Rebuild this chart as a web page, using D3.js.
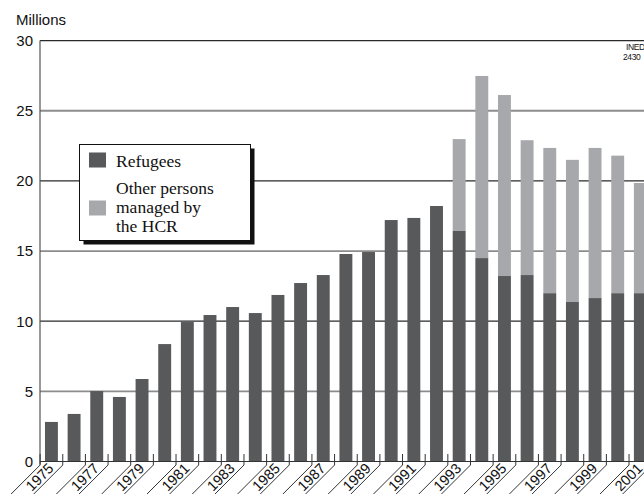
<!DOCTYPE html>
<html>
<head>
<meta charset="utf-8">
<script src="https://cdn.jsdelivr.net/npm/d3@7/dist/d3.min.js"></script>
<style>
  html, body { margin: 0; padding: 0; background: #fff; overflow: hidden; }
  svg { display: block; }
</style>
</head>
<body>
<div id="chart"></div>
<script>
// ---- data (millions) ----
const years = [1975,1976,1977,1978,1979,1980,1981,1982,1983,1984,1985,1986,1987,1988,
               1989,1990,1991,1992,1993,1994,1995,1996,1997,1998,1999,2000,2001];
const refugees = [2.82,3.39,5.02,4.6,5.88,8.37,9.94,10.44,11.01,10.58,11.87,12.72,13.29,14.79,
                  14.93,17.21,17.36,18.21,16.43,14.5,13.22,13.29,12.0,11.37,11.65,12.0,12.0];
const others = [0,0,0,0,0,0,0,0,0,0,0,0,0,0,
                0,0,0,0,6.55,12.98,12.9,9.61,10.35,10.13,10.7,9.8,7.85];
const yTicks = [0,5,10,15,20,25,30];
const xLabelYears = years.filter(y => y % 2 === 1);
const legendItems = [
  {label: ["Refugees"], key: "refugees"},
  {label: ["Other persons", "managed by", "the HCR"], key: "others"}
];

const W = 644, H = 494;
const colors = {refugees: "#58595b", others: "#a7a8ab"};

const svg = d3.select("#chart").append("svg").attr("width", W).attr("height", H);

const x = d3.scaleBand().domain(years).range([40, 651.8]).paddingInner(0.43).paddingOuter(0.22);
const y = d3.scaleLinear().domain([0, 30]).range([461.5, 40.6]);
const axisY = y(0);
const step = x.step(), bw = x.bandwidth(), gap = step - bw;

// gridlines
svg.append("g").selectAll("line").data(yTicks.filter(d => d > 0)).join("line")
  .attr("x1", 40).attr("x2", W)
  .attr("y1", d => y(d)).attr("y2", d => y(d))
  .attr("stroke", d => d % 10 === 0 ? "#2a2a2a" : "#8c8c8c")
  .attr("stroke-width", d => d % 10 === 0 ? 1.2 : 1.8);

// y tick labels
svg.append("g").selectAll("text").data(yTicks).join("text")
  .attr("x", 33).attr("y", d => y(d)).attr("dy", "0.36em")
  .attr("text-anchor", "end")
  .attr("font-family", "Liberation Sans, Arial, sans-serif").attr("font-size", 15)
  .attr("fill", "#111").text(d => d);

svg.append("text").attr("x", 16).attr("y", 25)
  .attr("font-family", "Liberation Sans, Arial, sans-serif").attr("font-size", 15)
  .attr("fill", "#111").text("Millions");

// stacked bars
const stackData = years.map((yr, i) => ({year: yr, refugees: refugees[i], others: others[i]}));
const series = d3.stack().keys(["refugees", "others"])(stackData);
svg.append("g").selectAll("g").data(series).join("g")
  .attr("fill", s => colors[s.key])
  .selectAll("rect").data(s => s.filter(d => d[1] - d[0] > 0)).join("rect")
  .attr("x", d => x(d.data.year)).attr("width", bw)
  .attr("y", d => y(d[1])).attr("height", d => y(d[0]) - y(d[1]));

// axes lines
svg.append("line").attr("x1", 40).attr("x2", W).attr("y1", axisY).attr("y2", axisY)
  .attr("stroke", "#333").attr("stroke-width", 1.2);
svg.append("line").attr("x1", 40).attr("x2", 40).attr("y1", y(30)).attr("y2", axisY + 3)
  .attr("stroke", "#555").attr("stroke-width", 1.2);

// band boundary ticks and diagonal guides
const bounds = years.map(yr => x(yr) - gap / 2).concat([x(years[years.length - 1]) + bw + gap / 2]);
const tg = svg.append("g").attr("stroke", "#333").attr("stroke-width", 1).attr("fill", "none");
tg.selectAll("path").data(bounds).join("path")
  .attr("d", b => `M${b},${axisY - 7.5}L${b},${axisY + 3.5}L${b - 40},${axisY + 43.5}`);

// x labels
svg.append("g").selectAll("text").data(xLabelYears).join("text")
  .attr("transform", d => {
    const cx = x(d) + bw / 2;
    return `translate(${cx - 12},${axisY + 3.5 + 12}) rotate(-45)`;
  })
  .attr("text-anchor", "middle").attr("dy", "0.36em")
  .attr("font-family", "Liberation Sans, Arial, sans-serif").attr("font-size", 14.5)
  .attr("fill", "#111").text(d => d);

// legend
const lg = svg.append("g");
lg.append("rect").attr("x", 83.5).attr("y", 148.5).attr("width", 171).attr("height", 96).attr("fill", "#111");
lg.append("rect").attr("x", 79.5).attr("y", 144.5).attr("width", 171).attr("height", 96)
  .attr("fill", "#fff").attr("stroke", "#111").attr("stroke-width", 1);
const swY = [152.5, 200.5];
const txtY = [[166.5], [194, 213, 232]];
legendItems.forEach((it, i) => {
  lg.append("rect").attr("x", 89).attr("y", swY[i]).attr("width", 17).attr("height", 15)
    .attr("fill", colors[it.key]);
  it.label.forEach((ln, j) => {
    lg.append("text").attr("x", 116).attr("y", txtY[i][j])
      .attr("font-family", "Liberation Serif, Times New Roman, serif").attr("font-size", 17.5)
      .attr("fill", "#111").text(ln);
  });
});

// source note
svg.append("text").attr("x", 626).attr("y", 49.5)
  .attr("font-family", "Liberation Sans, Arial, sans-serif").attr("font-size", 8.5)
  .attr("letter-spacing", -0.4).attr("fill", "#111").text("INED");
svg.append("text").attr("x", 623).attr("y", 59.5)
  .attr("font-family", "Liberation Sans, Arial, sans-serif").attr("font-size", 8.5)
  .attr("letter-spacing", -0.4).attr("fill", "#111").text("2430");
</script>
</body>
</html>
